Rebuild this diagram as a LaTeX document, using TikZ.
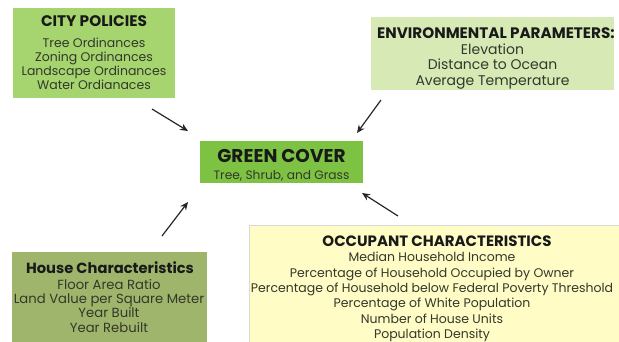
\documentclass[tikz,border=0pt]{standalone}
\usepackage{fontspec}
\setmainfont{Poppins}
\usetikzlibrary{arrows.meta}
\definecolor{cityC}{HTML}{A6D46F}
\definecolor{envC}{HTML}{D7EAB6}
\definecolor{greenC}{HTML}{7DC242}
\definecolor{houseC}{HTML}{9FB56B}
\definecolor{occC}{HTML}{FFFCC6}
\definecolor{txtC}{HTML}{33382A}
\tikzset{
  box/.style={draw=none, inner sep=0pt},
  ttl/.style={font=\fontsize{15}{15}\selectfont\bfseries, text=black!90, inner sep=0pt},
  itm/.style={text=txtC, align=center, inner sep=0pt, anchor=north},
  arr/.style={-{Stealth[length=8pt,width=7pt]}, line width=1.2pt, draw=black!85}
}
\begin{document}
\begin{tikzpicture}[x=1pt,y=-1pt]
\useasboundingbox (0,0) rectangle (619,342);
\clip (0,0) rectangle (619,342);
% boxes
\node[box, fill=cityC, minimum width=162pt, minimum height=90pt] (city) at (94,53) {};
\node[box, fill=envC, minimum width=243pt, minimum height=73pt] (env) at (492.5,53.5) {};
\node[box, fill=greenC, minimum width=163pt, minimum height=42pt] (green) at (281.5,162) {};
\node[box, fill=houseC, minimum width=195pt, minimum height=96pt] (house) at (109.5,300) {};
\node[box, fill=occC, draw=black!15, line width=0.6pt, minimum width=372pt, minimum height=122pt] (occ) at (435.5,286) {};
% texts
\node[ttl, font=\fontsize{15.3}{15.3}\selectfont\bfseries] (cityT) at (94,21) {CITY POLICIES};
\node[itm, font=\fontsize{12.5}{14}\selectfont] (cityI) at (94,38) {Tree Ordinances\\Zoning Ordinances\\Landscape Ordinances\\Water Ordianaces};
\node[ttl, font=\fontsize{15.2}{15.2}\selectfont\bfseries] (envT) at (496,33) {ENVIRONMENTAL PARAMETERS:};
\node[itm, font=\fontsize{14}{15.5}\selectfont] (envI) at (492.5,43.5) {Elevation\\Distance to Ocean\\Average Temperature};
\node[ttl, font=\fontsize{18.5}{18.5}\selectfont\bfseries] (greenT) at (281.5,155.5) {GREEN COVER};
\node[itm, anchor=center, font=\fontsize{12.2}{12.2}\selectfont] (greenI) at (281.5,175.5) {Tree, Shrub, and Grass};
\node[ttl, font=\fontsize{14.7}{14.7}\selectfont\bfseries] (houseT) at (110,268) {House Characteristics};
\node[itm, font=\fontsize{13.2}{14.3}\selectfont] (houseI) at (109,279) {Floor Area Ratio\\Land Value per Square Meter\\Year Built\\Year Rebuilt};
\node[ttl] (occT) at (437,241) {OCCUPANT CHARACTERISTICS};
\node[itm, font=\fontsize{12.5}{15.4}\selectfont] (occI) at (432,252) {Median Household Income\\Percentage of Household Occupied by Owner\\Percentage of Household below Federal Poverty Threshold\\Percentage of White Population\\Number of House Units\\Population Density};
% arrows
\coordinate (a1s) at (152,109);
\coordinate (a1e) at (188,131);
\coordinate (a2s) at (381,100);
\coordinate (a2e) at (357,133);
\coordinate (a3s) at (162,236);
\coordinate (a3e) at (188,202);
\coordinate (a4s) at (398,216);
\coordinate (a4e) at (362,193);
\draw[arr] (a1s) -- (a1e);
\draw[arr] (a2s) -- (a2e);
\draw[arr] (a3s) -- (a3e);
\draw[arr] (a4s) -- (a4e);
\end{tikzpicture}
\end{document}
